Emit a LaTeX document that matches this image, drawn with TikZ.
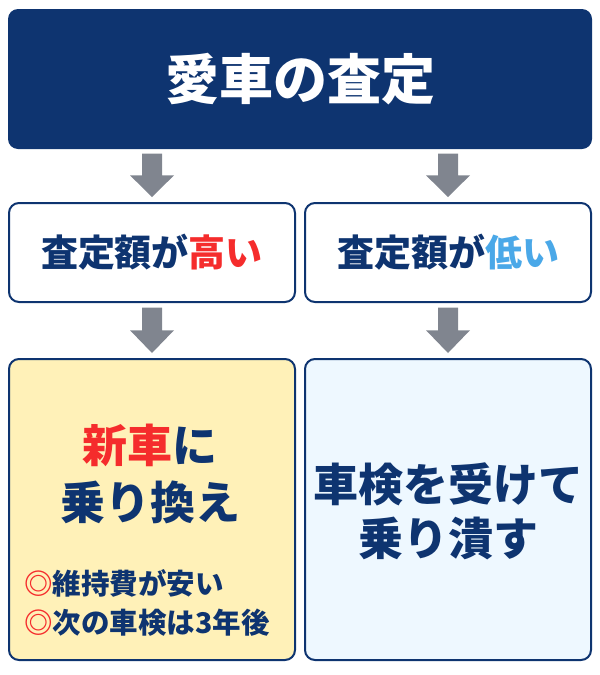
\documentclass[tikz,border=0pt]{standalone}
\usepackage{fontspec}
\newfontfamily\jp{Noto Sans CJK JP}
\usetikzlibrary{calc}
\definecolor{navy}{HTML}{0E3470}
\definecolor{hired}{HTML}{F52C2C}
\definecolor{lowblue}{HTML}{4AA8E8}
\definecolor{arrowgray}{HTML}{80858F}
\definecolor{yelfill}{HTML}{FFF1B8}
\definecolor{bluefill}{HTML}{EEF8FF}
\newcommand\blockarr[2]{%
  \fill[arrowgray] let \p1=($(#1.south -| #2.north)+(0,-4.5pt)$), \p2=($(#2.north)+(0,5pt)$) in
   (\x1-10pt,\y1) -- (\x1+10pt,\y1) -- (\x1+10pt,{(\y1+\y2)/2}) -- (\x1+22pt,{(\y1+\y2)/2})
   -- (\x2,\y2) -- (\x1-22pt,{(\y1+\y2)/2}) -- (\x1-10pt,{(\y1+\y2)/2}) -- cycle;}
\tikzset{
  titlebox/.style={fill=navy, rounded corners=10pt, inner sep=0pt, text=white,
    font=\jp\bfseries\fontsize{54}{60}\selectfont},
  midbox/.style={draw=navy, line width=2pt, fill=white, rounded corners=10pt, inner sep=0pt,
    minimum width=286pt, minimum height=99pt, text=navy,
    font=\jp\bfseries\fontsize{37}{42}\selectfont},
  lowbox/.style={draw=navy, line width=2pt, rounded corners=10pt, inner sep=0pt,
    minimum width=286pt, minimum height=301pt},
  bigtxt/.style={text=navy, inner sep=0pt, font=\jp\bfseries\fontsize{45}{50}\selectfont},
  smalltxt/.style={text=navy, inner sep=0pt, anchor=west, font=\jp\bfseries\fontsize{28.5}{32}\selectfont},
}
\begin{document}
\begin{tikzpicture}[x=1pt,y=-1pt]
\useasboundingbox (0,0) rectangle (600,675);
\node[titlebox, minimum width=584pt, minimum height=140pt] (top) at (300,79) {愛車の査定};
\node[midbox] (hl) at (152,252.5) {査定額が{\color{hired}高い}};
\node[midbox] (hr) at (448,252.5) {査定額が{\color{lowblue}低い}};
\node[lowbox, fill=yelfill] (bl) at (152,509.5) {};
\node[lowbox, fill=bluefill] (br) at (448,509.5) {};
\blockarr{top}{hl}
\blockarr{top}{hr}
\blockarr{hl}{bl}
\blockarr{hr}{br}
\node[bigtxt] (l1) at (150,445) {{\color{hired}新車}に};
\node[bigtxt] (l2) at (150,502) {乗り換え};
\node[smalltxt] (b1) at (24,583) {{\color{hired}◎}維持費が安い};
\node[smalltxt] (b2) at (24,623) {{\color{hired}◎}次の車検は3年後};
\node[bigtxt] (r1) at (448,484) {車検を受けて};
\node[bigtxt] (r2) at (448,538) {乗り潰す};
\end{tikzpicture}
\end{document}
